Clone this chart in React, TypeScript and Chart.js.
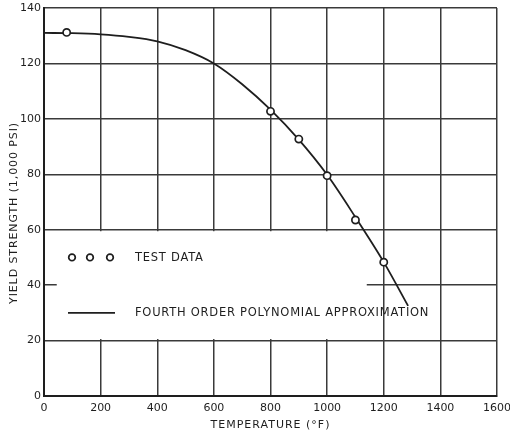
import React, { useEffect, useRef } from "react";
import { Chart, registerables } from "chart.js";

Chart.register(...registerables);

// Test data (temperature °F, yield strength 1,000 psi)
const testTemps = [80, 800, 900, 1000, 1100, 1200];
const testStrength = [131.2, 102.7, 92.7, 79.5, 63.5, 48.3];

// Fourth order polynomial approximation
const fitTemps = [0, 100, 200, 300, 400, 500, 600, 700, 800, 900, 1000, 1100, 1200, 1286];
const fitStrength = [131, 130.9, 130.5, 129.6, 128, 124.8, 120, 112.5, 103.3, 92.5, 79.8, 64.5, 48.3, 32.5];

const xTicks = [0, 200, 400, 600, 800, 1000, 1200, 1400, 1600];
const yTicks = [0, 20, 40, 60, 80, 100, 120, 140];

const xTitle = "TEMPERATURE (°F)";
const yTitle = "YIELD STRENGTH (1,000 PSI)";
const legendLabels = ["TEST DATA", "FOURTH ORDER POLYNOMIAL APPROXIMATION"];

const FONT = "'DejaVu Sans', sans-serif";
const INK = "#1e1e1e";

const overlayPlugin = {
  id: "overlay",
  beforeDatasetsDraw(chart: any) {
    const { ctx, chartArea, scales } = chart;
    const x = scales.x;
    const y = scales.y;
    ctx.save();
    // white legend box covering grid
    const bx0 = x.getPixelForValue(45);
    const bx1 = x.getPixelForValue(1140);
    const by0 = y.getPixelForValue(60) + 1.5;
    const by1 = y.getPixelForValue(20) - 1.5;
    ctx.fillStyle = "#ffffff";
    ctx.fillRect(bx0, by0, bx1 - bx0, by1 - by0);

    // legend
    const row1 = y.getPixelForValue(50);
    const row2 = y.getPixelForValue(30);
    const l = chartArea.left;
    ctx.strokeStyle = INK;
    ctx.lineWidth = 1.7;
    [28, 46, 66].forEach((dx) => {
      ctx.beginPath();
      ctx.arc(l + dx, row1, 3.3, 0, Math.PI * 2);
      ctx.stroke();
    });
    ctx.beginPath();
    ctx.moveTo(l + 24, row2);
    ctx.lineTo(l + 71, row2);
    ctx.stroke();
    ctx.fillStyle = INK;
    ctx.font = `11.5px ${FONT}`;
    (ctx as any).letterSpacing = "0.75px";
    ctx.textAlign = "left";
    ctx.textBaseline = "middle";
    ctx.fillText(legendLabels[0], l + 91, row1 + 0.5);
    ctx.fillText(legendLabels[1], l + 91, row2 + 0.5);
    ctx.restore();
  },
  afterDraw(chart: any) {
    const { ctx, chartArea } = chart;
    ctx.save();
    ctx.fillStyle = INK;
    ctx.font = `11px ${FONT}`;
    (ctx as any).letterSpacing = "1px";
    ctx.textAlign = "center";
    ctx.textBaseline = "middle";
    ctx.fillText(xTitle, (chartArea.left + chartArea.right) / 2, chartArea.bottom + 29);
    (ctx as any).letterSpacing = "0.9px";
    ctx.translate(14, chartArea.top + 205);
    ctx.rotate(-Math.PI / 2);
    ctx.fillText(yTitle, 0, 0);
    ctx.restore();
  },
};

export default function App() {
  const ref = useRef<HTMLCanvasElement | null>(null);
  useEffect(() => {
    if (!ref.current) return;
    const chart = new Chart(ref.current, {
      type: "scatter",
      data: {
        datasets: [
          {
            label: legendLabels[1],
            data: fitTemps.map((t, i) => ({ x: t, y: fitStrength[i] })),
            showLine: true,
            borderColor: INK,
            borderWidth: 1.8,
            pointRadius: 0,
            cubicInterpolationMode: "monotone",
            order: 2,
          },
          {
            label: legendLabels[0],
            data: testTemps.map((t, i) => ({ x: t, y: testStrength[i] })),
            showLine: false,
            pointRadius: 3.6,
            pointBackgroundColor: "#ffffff",
            pointBorderColor: INK,
            pointBorderWidth: 1.7,
            order: 1,
          },
        ],
      },
      options: {
        animation: false,
        responsive: true,
        maintainAspectRatio: false,
        layout: { padding: { top: 8, right: 13, left: 0, bottom: 0 } },
        plugins: { legend: { display: false }, tooltip: { enabled: false } },
        scales: {
          x: {
            type: "linear",
            min: 0,
            max: 1600,
            afterBuildTicks: (s: any) => {
              s.ticks = xTicks.map((v) => ({ value: v }));
            },
            afterFit: (s: any) => {
              s.height = 43;
              s.paddingLeft = 0;
              s.paddingRight = 0;
            },
            ticks: {
              color: INK,
              font: { family: FONT, size: 11 },
              padding: 6,
              maxRotation: 0,
              autoSkip: false,
              callback: (v: any) => String(v),
            },
            grid: { color: "#3a3a3a", lineWidth: 1.5, drawTicks: false },
            border: { color: INK, width: 2 },
          },
          y: {
            type: "linear",
            min: 0,
            max: 140,
            afterBuildTicks: (s: any) => {
              s.ticks = yTicks.map((v) => ({ value: v }));
            },
            afterFit: (s: any) => {
              s.width = 44;
              s.paddingTop = 0;
              s.paddingBottom = 0;
            },
            ticks: {
              color: INK,
              font: { family: FONT, size: 11 },
              padding: 3,
              callback: (v: any) => String(v),
            },
            grid: { color: "#3a3a3a", lineWidth: 1.5, drawTicks: false },
            border: { color: INK, width: 2 },
          },
        },
      },
      plugins: [overlayPlugin],
    });
    return () => chart.destroy();
  }, []);
  return (
    <div style={{ position: "fixed", left: 0, top: 0, width: 510, height: 439, background: "#fff" }}>
      <canvas ref={ref} />
    </div>
  );
}
